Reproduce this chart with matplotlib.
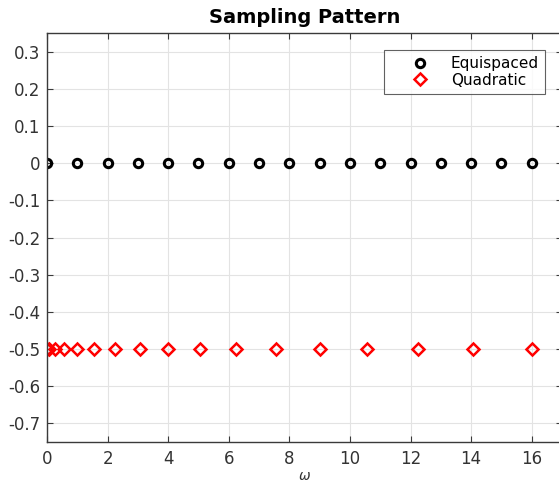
import matplotlib
matplotlib.use("Agg")
import matplotlib.pyplot as plt

# Sample locations
equi_x = [0, 1, 2, 3, 4, 5, 6, 7, 8, 9, 10, 11, 12, 13, 14, 15, 16]
equi_y = [0.0] * len(equi_x)
quad_x = [0, 0.0625, 0.25, 0.5625, 1, 1.5625, 2.25, 3.0625, 4, 5.0625,
          6.25, 7.5625, 9, 10.5625, 12.25, 14.0625, 16]
quad_y = [-0.5] * len(quad_x)

x_ticks = [0, 2, 4, 6, 8, 10, 12, 14, 16]
y_ticks = [0.3, 0.2, 0.1, 0, -0.1, -0.2, -0.3, -0.4, -0.5, -0.6, -0.7]
y_labels = ["0.3", "0.2", "0.1", "0", "-0.1", "-0.2", "-0.3", "-0.4", "-0.5", "-0.6", "-0.7"]

W, H = 559, 487
fig = plt.figure(figsize=(W / 100, H / 100), dpi=100)
left, right, top, bottom = 47, 562, 33, 442
ax = fig.add_axes([left / W, 1 - bottom / H, (right - left) / W, (bottom - top) / H])

ax.plot(equi_x, equi_y, linestyle="none", marker="o", markersize=6,
        markerfacecolor="none", markeredgecolor="black", markeredgewidth=2.2,
        label="Equispaced")
ax.plot(quad_x, quad_y, linestyle="none", marker="D", markersize=6,
        markerfacecolor="none", markeredgecolor="red", markeredgewidth=1.8,
        label="Quadratic")

ax.set_xlim(0, 17)
ax.set_ylim(-0.75, 0.35)
ax.set_xticks(x_ticks)
ax.set_yticks(y_ticks)
ax.set_yticklabels(y_labels)

ax.grid(True, color="#e3e3e3", linewidth=0.8)
ax.set_axisbelow(True)
ax.tick_params(direction="in", length=4, width=0.8, top=True, right=True,
               labelsize=12, colors="#3a3a3a", labelcolor="#333333")
ax.tick_params(axis="y", pad=5)
ax.tick_params(axis="x", pad=5.5)
for s in ax.spines.values():
    s.set_color("#3a3a3a")
    s.set_linewidth(1.0)

ax.set_title("Sampling Pattern", fontsize=14, fontweight="bold", pad=7)
ax.set_xlabel(r"$\omega$", fontsize=10, color="#333333", labelpad=1)

leg = ax.legend(loc="upper right", bbox_to_anchor=(545 / W, 1 - 50 / H),
                bbox_transform=fig.transFigure, fontsize=11, frameon=True,
                fancybox=False, edgecolor="#3a3a3a", borderpad=0.4,
                labelspacing=0.1, handlelength=4.0, handletextpad=0.0,
                borderaxespad=0.0)
leg.get_frame().set_linewidth(0.8)

fig.savefig("out.png", dpi=100)
